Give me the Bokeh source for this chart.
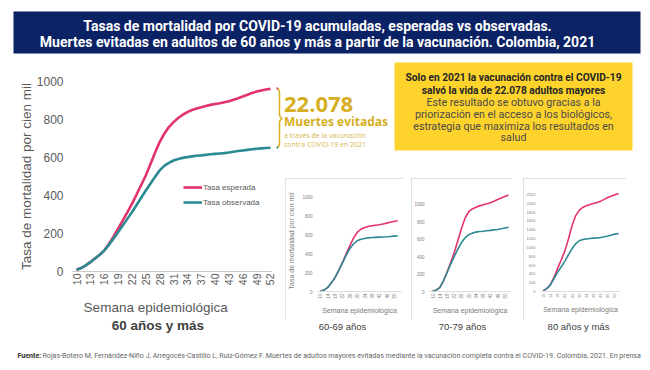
import math
from bokeh.plotting import figure
from bokeh.models import Range1d, FixedTicker, Legend, LegendItem, Spacer
from bokeh.layouts import column, row
from bokeh.embed import file_html
from bokeh.resources import INLINE
from bokeh.core.properties import value

# ---------------- data ----------------
TITLE_LINES = [
    "Tasas de mortalidad por COVID-19 acumuladas, esperadas vs observadas.",
    "Muertes evitadas en adultos de 60 años y más a partir de la vacunación. Colombia, 2021",
]
WEEKS = [10, 11, 12, 13, 14, 15, 16, 17, 18, 19, 20, 21, 22, 23, 24, 25, 26, 27, 28, 29, 30,
         31, 32, 33, 34, 35, 36, 37, 38, 39, 40, 41, 42, 43, 44, 45, 46, 47, 48, 49, 50, 51, 52]
ESPERADA_60 = [9, 18, 32, 49, 68, 88, 110, 145, 183, 225, 268, 311, 356, 405, 455, 505, 565, 625,
               681, 725, 760, 786, 808, 825, 839, 850, 858, 865, 871, 877, 882, 886, 891, 896,
               904, 912, 921, 930, 939, 947, 953, 958, 961]
OBSERVADA_60 = [9, 18, 32, 49, 68, 88, 110, 140, 173, 207, 242, 277, 312, 350, 388, 426, 462, 498,
                532, 556, 572, 584, 592, 598, 602, 606, 609, 611, 614, 617, 619, 621, 623, 626,
                630, 634, 637, 640, 643, 646, 648, 650, 651]
MAIN_XTICKS = [10, 13, 16, 19, 22, 25, 28, 31, 34, 37, 40, 43, 46, 49, 52]
MAIN_YTICKS = [0, 200, 400, 600, 800, 1000]
MAIN_XLABEL = "Semana epidemiológica"
MAIN_YLABEL = "Tasa de mortalidad por cien mil"
MAIN_GROUP = "60 años y más"

PANEL_WEEKS = [10, 12, 14, 16, 18, 20, 22, 24, 26, 28, 30, 32, 34, 36, 38, 40, 42, 44, 46, 48, 50, 52]
PANEL_XTICKS = [10, 14, 18, 22, 26, 30, 34, 38, 42, 46, 50]
ESPERADA_6069 = [2, 15, 43, 92, 149, 225, 309, 400, 486, 568, 628, 662, 681, 692, 699, 704, 709, 717,
                 727, 736, 745, 752]
OBSERVADA_6069 = [2, 15, 43, 92, 149, 225, 305, 385, 455, 505, 539, 555, 564, 570, 574, 576, 578,
                  580, 582, 585, 589, 592]
ESPERADA_7079 = [2, 15, 45, 120, 219, 330, 444, 580, 722, 840, 913, 945, 965, 980, 993, 1005, 1017,
                 1033, 1052, 1070, 1088, 1104]
OBSERVADA_7079 = [2, 15, 45, 120, 215, 310, 400, 485, 560, 615, 650, 668, 680, 686, 690, 695, 700,
                  705, 710, 718, 727, 735]
ESPERADA_80 = [20, 70, 160, 330, 530, 720, 920, 1190, 1490, 1715, 1840, 1905, 1945, 1972, 1993, 2018,
               2048, 2088, 2131, 2165, 2195, 2220]
OBSERVADA_80 = [20, 70, 155, 300, 440, 560, 690, 830, 970, 1080, 1150, 1178, 1190, 1200, 1210, 1216,
                1223, 1240, 1258, 1280, 1300, 1313]
YTICKS_1000 = [0, 200, 400, 600, 800, 1000]
YTICKS_2200 = [0, 200, 400, 600, 800, 1000, 1200, 1400, 1600, 1800, 2000, 2200]
PANEL_LABELS = ["60-69 años", "70-79 años", "80 años y más"]

BIG_NUMBER = "22.078"
BIG_LINES = ["Muertes evitadas", "a través de la vacunación", "contra COVID-19 en 2021"]
BOX_BOLD = ["Solo en 2021 la vacunación contra el COVID-19", "salvó la vida de 22.078 adultos mayores"]
BOX_TEXT = ["Este resultado se obtuvo gracias a la", "priorización en el acceso a los biológicos,",
            "estrategia que maximiza los resultados en", "salud"]
FOOT_BOLD = "Fuente:"
FOOT_TEXT = ("Rojas-Botero M, Fernández-Niño J, Arregocés-Castillo L, Ruiz-Gómez F. Muertes de adultos "
             "mayores evitadas mediante la vacunación completa contra el COVID-19. Colombia, 2021. En prensa")

PINK = "#E3336B"
TEAL = "#2C8A93"
NAVY = "#0B2265"
YELLOW = "#FED32C"
GOLD = "#D6AE22"
GRAY = "#595959"
SANS = "Liberation Sans"


def canvas(w, h):
    f = figure(width=w, height=h, x_range=Range1d(0, w), y_range=Range1d(h, 0),
               output_backend="svg", toolbar_location=None, min_border=0,
               x_axis_location=None, y_axis_location=None)
    f.grid.visible = False
    f.outline_line_color = None
    f.background_fill_color = "white"
    f.border_fill_color = "white"
    return f


def txt(f, x, y, s, size, color, font="Roboto", style="normal", align="left"):
    f.text(x=[x], y=[y], text=[s], text_font=value(font), text_font_size=value(size),
           text_font_style=style, text_color=color, text_align=align, text_baseline="middle")


# ---------------- banner ----------------
banner = canvas(634, 50)
banner.quad(left=[5], right=[632], top=[3], bottom=[45], fill_color=NAVY, line_color=None)
txt(banner, 309, 17, TITLE_LINES[0], "14px", "white", style="bold", align="center")
txt(banner, 309, 33, TITLE_LINES[1], "14px", "white", style="bold", align="center")

# ---------------- main chart ----------------
main = figure(width=268, height=232, x_range=Range1d(9.13, 52.22), y_range=Range1d(0, 1000),
              output_backend="svg", toolbar_location=None,
              min_border_left=64, min_border_right=5, min_border_top=23, min_border_bottom=19)
main.grid.visible = False
main.outline_line_color = None
r1 = main.line(WEEKS, ESPERADA_60, color=PINK, line_width=2.6)
r2 = main.line(WEEKS, OBSERVADA_60, color=TEAL, line_width=2.6)
for ax in (main.xaxis[0], main.yaxis[0]):
    ax.major_tick_out = 0
    ax.major_tick_in = 0
    ax.minor_tick_out = 0
    ax.minor_tick_in = 0
    ax.major_label_text_font = SANS
    ax.major_label_text_color = GRAY
main.xaxis.ticker = FixedTicker(ticks=MAIN_XTICKS)
main.yaxis.ticker = FixedTicker(ticks=MAIN_YTICKS)
main.xaxis.major_label_orientation = math.pi / 2
main.xaxis.major_label_text_font_size = "10.5px"
main.xaxis.major_label_standoff = 2
main.xaxis.axis_line_color = "#c8c8c8"
main.yaxis.axis_line_color = None
main.yaxis.major_label_text_font_size = "12px"
main.yaxis.major_label_standoff = 9
main.yaxis.axis_label = MAIN_YLABEL
main.yaxis.axis_label_text_font = SANS
main.yaxis.axis_label_text_font_size = "13.5px"
main.yaxis.axis_label_text_font_style = "normal"
main.yaxis.axis_label_text_color = GRAY
main.yaxis.axis_label_standoff = 0
legend = Legend(items=[LegendItem(label="Tasa esperada", renderers=[r1]),
                       LegendItem(label="Tasa observada", renderers=[r2])],
                location=(111, 63), glyph_width=19, glyph_height=12, label_height=12,
                label_standoff=1, spacing=3, padding=0, margin=0,
                label_text_font=SANS, label_text_font_size="8px", label_text_color=GRAY,
                border_line_color=None, background_fill_alpha=0)
main.add_layout(legend)

caption = canvas(268, 52)
txt(caption, 112, 17, MAIN_XLABEL, "13.5px", GRAY, font=SANS, align="center")
txt(caption, 115, 35, MAIN_GROUP, "13.5px", "#404040", font=SANS, style="bold", align="center")
left_col = column(main, caption)

# ---------------- top right annotations ----------------
RW = 366
tr = canvas(RW, 116)
bx = [0, 1.8, 2.7, 3, 3, 3.5, 5.5, 3.5, 3, 3, 2.7, 1.8, 0]
by = [30, 30.5, 32, 34, 56, 58, 60, 62, 64, 85, 87, 88.5, 89]
tr.line(bx, by, color=GOLD, line_width=1.5)
tr.line([0, 1.5], [30, 30], color=PINK, line_width=2.5)
tr.line([0, 1.5], [89, 89], color=TEAL, line_width=2.5)
txt(tr, 7.5, 46, BIG_NUMBER, "22px", GOLD, font="Open Sans", style="bold")
txt(tr, 7.5, 63, BIG_LINES[0], "12px", GOLD, font="Open Sans", style="bold")
txt(tr, 7.5, 77, BIG_LINES[1], "7px", "#D8B650", font="Open Sans")
txt(tr, 7.5, 86, BIG_LINES[2], "7px", "#D8B650", font="Open Sans")
tr.quad(left=[118], right=[356], top=[4], bottom=[92], fill_color=YELLOW, line_color=None)
for yy, s in zip([19, 32], BOX_BOLD):
    txt(tr, 237, yy, s, "10.2px", "#262626", style="bold", align="center")
for yy, s in zip([44, 56, 68, 79], BOX_TEXT):
    txt(tr, 237, yy, s, "10.7px", "#4a4a4a", align="center")


# ---------------- small panels ----------------
def make_panel(width, bl, br, bt, bb, xr, yend, yticks, esp, obs, ylabel, tick_size):
    f = figure(width=width, height=141, x_range=Range1d(*xr), y_range=Range1d(0, yend),
               output_backend="svg", toolbar_location=None,
               min_border_left=bl, min_border_right=br, min_border_top=bt, min_border_bottom=bb,
               styles={"outline": "1px solid #d9d9d9", "outline-offset": "-1px"})
    f.grid.visible = False
    f.outline_line_color = None
    f.line(PANEL_WEEKS, esp, color=PINK, line_width=1.6)
    f.line(PANEL_WEEKS, obs, color=TEAL, line_width=1.6)
    for ax in (f.xaxis[0], f.yaxis[0]):
        ax.major_tick_out = 0
        ax.major_tick_in = 0
        ax.minor_tick_out = 0
        ax.minor_tick_in = 0
        ax.major_label_text_font = SANS
        ax.major_label_text_font_size = tick_size
        ax.major_label_text_color = "#808080"
        ax.axis_label_text_font = SANS
        ax.axis_label_text_font_size = "7px"
        ax.axis_label_text_font_style = "normal"
        ax.axis_label_text_color = "#7a7a7a"
    f.xaxis.ticker = FixedTicker(ticks=PANEL_XTICKS)
    f.yaxis.ticker = FixedTicker(ticks=yticks)
    f.xaxis.major_label_orientation = math.pi / 2
    f.xaxis.major_label_standoff = 2
    f.xaxis.axis_line_color = "#dddddd"
    f.xaxis.axis_label = MAIN_XLABEL
    f.xaxis.axis_label_standoff = 5
    f.yaxis.axis_line_color = None
    f.yaxis.major_label_standoff = 5
    if ylabel:
        f.yaxis.axis_label = ylabel
        f.yaxis.axis_label_standoff = 4
    return f


p1 = make_panel(119, 29, 3, 12, 28, (8.43, 54.1), 1074, YTICKS_1000, ESPERADA_6069, OBSERVADA_6069,
                MAIN_YLABEL, "4.5px")
p2 = make_panel(101, 18, 2, 4, 26, (8.34, 53.1), 1156, YTICKS_1000, ESPERADA_7079, OBSERVADA_7079,
                None, "4.5px")
p3 = make_panel(103, 14, 6, 4, 26, (8.38, 53.08), 2289, YTICKS_2200, ESPERADA_80, OBSERVADA_80,
                None, "4px")

strip = canvas(RW, 23)
for xx, s in zip([66, 186, 302], PANEL_LABELS):
    txt(strip, xx, 7, s, "9.5px", "#404040", font=SANS, align="center")

panel_row = row(Spacer(width=9, height=141), p1, Spacer(width=7, height=141), p2,
                Spacer(width=11, height=141), p3, Spacer(width=16, height=141))
right_col = column(tr, Spacer(width=RW, height=4), panel_row, strip)

# ---------------- footer ----------------
footer = canvas(634, 20)
txt(footer, 9, 13, FOOT_BOLD, "7.1px", "#333333", style="bold")
txt(footer, 34, 13, FOOT_TEXT, "7.1px", "#666666")

inner = column(banner, row(left_col, right_col), footer)
layout = column(Spacer(width=642, height=8), row(Spacer(width=8, height=354), inner))
open("out.html", "w").write(file_html(layout, INLINE))
